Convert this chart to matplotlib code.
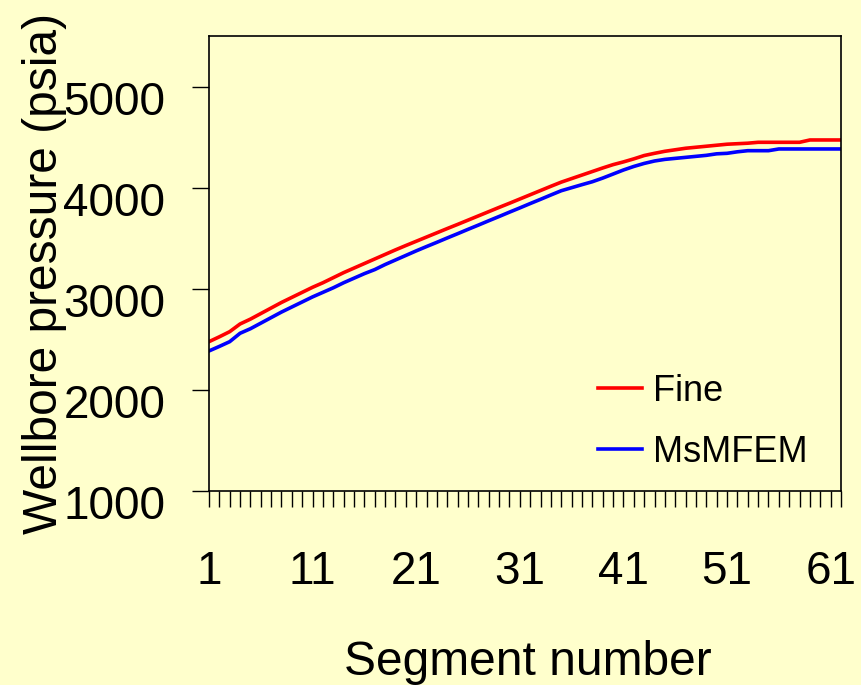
import numpy as np
import matplotlib
matplotlib.use("Agg")
import matplotlib.pyplot as plt
import matplotlib.transforms as mtransforms

plt.rcParams['font.family'] = ['Liberation Sans', 'DejaVu Sans']

# Segment numbers (62 segments, labelled every 10th)
segments = np.arange(1, 63)

# Wellbore pressure (psia)
fine = [2477, 2525, 2576, 2652, 2700, 2755, 2810, 2865, 2915, 2965,
        3015, 3060, 3110, 3160, 3205, 3250, 3295, 3340, 3385, 3428,
        3470, 3512, 3554, 3596, 3637, 3679, 3721, 3763, 3805, 3846,
        3888, 3930, 3972, 4014, 4055, 4090, 4125, 4160, 4195, 4228,
        4255, 4285, 4318, 4340, 4360, 4375, 4390, 4400, 4410, 4420,
        4430, 4435, 4440, 4449, 4449, 4449, 4449, 4449, 4472, 4472,
        4472, 4472]
msmfem = [2385, 2430, 2477, 2560, 2605, 2660, 2715, 2770, 2820, 2870,
          2920, 2965, 3010, 3060, 3105, 3150, 3190, 3240, 3285, 3330,
          3375, 3418, 3460, 3503, 3545, 3588, 3630, 3673, 3715, 3758,
          3800, 3843, 3885, 3928, 3970, 4000, 4030, 4059, 4095, 4135,
          4175, 4210, 4240, 4264, 4280, 4290, 4300, 4310, 4320, 4335,
          4340, 4355, 4366, 4366, 4366, 4383, 4383, 4383, 4383, 4383,
          4383, 4383]

y_ticks = [1000, 2000, 3000, 4000, 5000]
x_labels = [str(s) if (s - 1) % 10 == 0 else '' for s in segments]

BG = '#FFFFCC'

fig = plt.figure(figsize=(8.61, 6.85), dpi=100, facecolor=BG)
ax = fig.add_axes([0.2427, 0.2832, 0.7341, 0.6642])
ax.set_facecolor(BG)

ax.plot(segments, fine, color='#FF0000', lw=2.6, label='Fine')
ax.plot(segments, msmfem, color='#0000FF', lw=2.6, label='MsMFEM')

ax.set_xlim(1, 62)
ax.set_ylim(1000, 5500)
ax.set_xticks(segments)
ax.set_xticklabels(x_labels)
ax.set_yticks(y_ticks)

ax.tick_params(axis='x', direction='out', length=11.5, width=1.0,
               labelsize=33, pad=31)
ax.tick_params(axis='y', direction='out', length=12, width=1.0,
               labelsize=33, pad=19.5)

# push y tick labels slightly below their ticks, as in the original
offset = mtransforms.ScaledTranslation(0, -8 / 72, fig.dpi_scale_trans)
for lab in ax.get_yticklabels():
    lab.set_transform(lab.get_transform() + offset)

for spine in ax.spines.values():
    spine.set_color('black')
    spine.set_linewidth(1.2)

ax.set_xlabel('Segment number', fontsize=34.5, va='center')
ax.xaxis.set_label_coords(0.505, -0.378)
ax.set_ylabel('Wellbore pressure (psia)', fontsize=34.5, va='center')
ax.yaxis.set_label_coords(-0.26, 0.479)

ax.legend(loc='upper left', bbox_to_anchor=(0.6155, 0.257), frameon=False,
          fontsize=26, borderpad=0, borderaxespad=0, handlelength=1.23,
          handletextpad=0.3, labelspacing=0.72)

fig.savefig('out.png', dpi=100, facecolor=BG)
